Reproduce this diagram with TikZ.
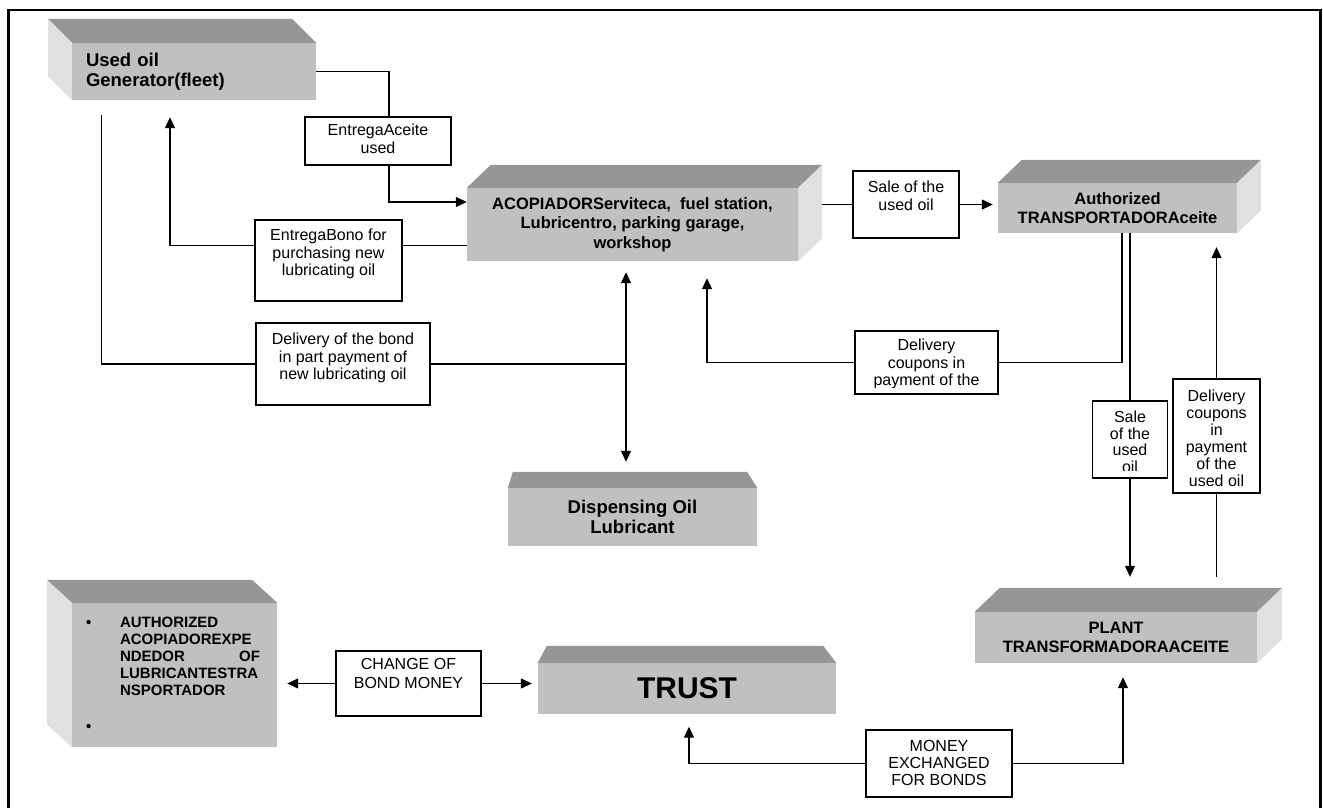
\documentclass[tikz,border=0pt]{standalone}
\usepackage{fontspec}
\setmainfont{Liberation Sans}
\usetikzlibrary{positioning}
\usetikzlibrary{arrows.meta}

\definecolor{facegray}{RGB}{192,192,192}
\definecolor{topgray}{RGB}{150,150,150}
\definecolor{sidegray}{RGB}{224,224,224}

\tikzset{
  blockface/.style={fill=facegray, inner sep=0pt, align=center, font=\bfseries\fontsize{16.5pt}{19.5pt}\selectfont},
  lblbox/.style={draw, line width=1.2pt, fill=white, inner sep=0pt},
  lbltxt/.style={anchor=north, inner sep=0pt, align=center, font=\fontsize{16pt}{17.5pt}\selectfont},
  flow/.style={line width=1.2pt},
  arrflow/.style={flow, -{Triangle[length=11pt,width=10pt]}},
  arrboth/.style={flow, {Triangle[length=11pt,width=10pt]}-{Triangle[length=11pt,width=10pt]}},
}

\begin{document}
\begin{tikzpicture}[x=1pt,y=-1pt]
	\useasboundingbox (0,0) rectangle (1323,808);
	\draw [line width=2.5pt] (8.5,808) -- (8.5,10) -- (1320.5,10) -- (1320.5,808);
	
	% blocks
	\node [blockface, minimum width=244pt, minimum height=57pt, text width=216pt, align=left, font=\bfseries\fontsize{18.5pt}{20pt}\selectfont] (gen) at (194,71.5) {Used oil\\Generator(fleet)};
	\fill [topgray] (gen.north west) -- ++(-24,-24) -- ([shift={(-24,-24)}]gen.north east) -- (gen.north east) -- cycle;
	\fill [sidegray] (gen.north west) -- ++(-24,-24) -- ([shift={(-24,-24)}]gen.south west) -- (gen.south west) -- cycle;
	
	\node [blockface, minimum width=331pt, minimum height=73pt] (acop) at (632.5,224.5) {ACOPIADORServiteca,\ \ fuel station,\\Lubricentro, parking garage,\\workshop};
	\fill [topgray] (acop.north west) -- ++(24,-23) -- ([shift={(24,-23)}]acop.north east) -- (acop.north east) -- cycle;
	\fill [sidegray] (acop.north east) -- ++(24,-23) -- ([shift={(24,-23)}]acop.south east) -- (acop.south east) -- cycle;
	
	\node [blockface, minimum width=239pt, minimum height=50pt] (auth) at (1117.5,208) {Authorized\\TRANSPORTADORAceite};
	\fill [topgray] (auth.north west) -- ++(24,-23) -- ([shift={(24,-23)}]auth.north east) -- (auth.north east) -- cycle;
	\fill [sidegray] (auth.north east) -- ++(24,-23) -- ([shift={(24,-23)}]auth.south east) -- (auth.south east) -- cycle;
	
	\node [blockface, minimum width=249pt, minimum height=58pt, font=\bfseries\fontsize{18.5pt}{20pt}\selectfont] (dispOil) at (632.5,517) {Dispensing Oil\\Lubricant};
	\fill [topgray] (dispOil.north west) -- ++(5,-16) -- ([shift={(-10,-16)}]dispOil.north east) -- (dispOil.north east) -- cycle;
	
	\node [blockface, minimum width=298pt, minimum height=51pt, font=\bfseries\fontsize{30pt}{32pt}\selectfont] (trust) at (687,688.5) {TRUST};
	\fill [topgray] (trust.north west) -- ++(9,-17) -- ([shift={(-13,-17)}]trust.north east) -- (trust.north east) -- cycle;
	
	\node [blockface, minimum width=282pt, minimum height=51pt] (plant) at (1116,637.5) {PLANT\\TRANSFORMADORAACEITE};
	\fill [topgray] (plant.north west) -- ++(25,-24) -- ([shift={(25,-24)}]plant.north east) -- (plant.north east) -- cycle;
	\fill [sidegray] (plant.north east) -- ++(25,-24) -- ([shift={(25,-24)}]plant.south east) -- (plant.south east) -- cycle;
	
	\node [blockface, minimum width=205pt, minimum height=144pt] (authExp) at (174.5,675) {};
	\fill [topgray] (authExp.north west) -- ++(-25,-23) -- ([shift={(-25,-23)}]authExp.north east) -- (authExp.north east) -- cycle;
	\fill [sidegray] (authExp.north west) -- ++(-25,-23) -- ([shift={(-25,-23)}]authExp.south west) -- (authExp.south west) -- cycle;
	\node [anchor=base, inner sep=0pt, font=\bfseries\fontsize{15pt}{17pt}\selectfont] (bulA) at ([xshift=17pt,yshift=-25pt]authExp.north west) {•};
	\node [anchor=base, inner sep=0pt, font=\bfseries\fontsize{15pt}{17pt}\selectfont] (bulB) at ([xshift=17pt,yshift=-129pt]authExp.north west) {•};
	\node [anchor=north west, inner sep=0pt, text width=142pt, align=left, font=\bfseries\fontsize{15pt}{17pt}\selectfont] (authTxt) at ([xshift=48pt,yshift=-14pt]authExp.north west) {AUTHORIZED\\ACOPIADOREXPE\\\leavevmode\makebox[140pt][s]{NDEDOR\hfil OF}\\LUBRICANTESTRA\\NSPORTADOR};
	
	% label boxes
	\node [lblbox, minimum width=146pt, minimum height=48pt] (entAce) at (378,141) {};
	\node [lbltxt] (entAceT) at ([yshift=-7.4pt]entAce.north) {EntregaAceite\\used};
	
	\node [lblbox, minimum width=147pt, minimum height=81pt] (entBono) at (328.5,260.5) {};
	\node [lbltxt] (entBonoT) at ([yshift=-9.4pt]entBono.north) {EntregaBono for\\purchasing new\\lubricating oil};
	
	\node [lblbox, minimum width=174pt, minimum height=82pt] (dlvBond) at (343,364) {};
	\node [lbltxt] (dlvBondT) at ([yshift=-10.4pt]dlvBond.north) {Delivery of the bond\\in part payment of\\new lubricating oil};
	
	\node [lblbox, minimum width=106pt, minimum height=67pt] (saleOil) at (906,204.5) {};
	\node [lbltxt] (saleOilT) at ([yshift=-10.4pt]saleOil.north) {Sale of the\\used oil};
	
	\node [lblbox, minimum width=143pt, minimum height=63pt] (dlvCoup) at (926.5,362.5) {};
	\begin{scope}
		\clip ([yshift=7pt]dlvCoup.south west) rectangle (dlvCoup.north east);
		\node [lbltxt] (dlvCoupT) at ([yshift=-8.4pt]dlvCoup.north) {Delivery\\coupons in\\payment of the};
	\end{scope}
	
	\node [lblbox, minimum width=75pt, minimum height=77pt] (saleV) at (1130,439.5) {};
	\begin{scope}
		\clip ([yshift=8pt]saleV.south west) rectangle (saleV.north east);
		\node [lbltxt, font=\fontsize{16pt}{16.5pt}\selectfont] (saleVT) at ([yshift=-10.4pt]saleV.north) {Sale\\of the\\used\\oil};
	\end{scope}
	
	\node [lblbox, minimum width=87pt, minimum height=114pt] (coupV) at (1216.5,436) {};
	\begin{scope}
		\clip ([yshift=8pt]coupV.south west) rectangle (coupV.north east);
		\node [lbltxt, font=\fontsize{16pt}{17pt}\selectfont] (coupVT) at ([yshift=-11.4pt]coupV.north) {Delivery\\coupons\\in\\payment\\of the\\used oil};
	\end{scope}
	
	\node [lblbox, minimum width=145pt, minimum height=65pt] (chgBond) at (408.5,683.5) {};
	\node [lbltxt, font=\fontsize{16pt}{19pt}\selectfont] (chgBondT) at ([yshift=-8.2pt]chgBond.north) {CHANGE OF\\BOND MONEY};
	
	\node [lblbox, minimum width=146pt, minimum height=67pt] (moneyEx) at (939,763.5) {};
	\node [lbltxt, font=\fontsize{16pt}{17pt}\selectfont] (moneyExT) at ([yshift=-11.2pt]moneyEx.north) {MONEY\\EXCHANGED\\FOR BONDS};
	
	% connectors
	\draw [flow] (gen.east) -| ([xshift=11pt]entAce.north);
	\draw [arrflow] ([xshift=11pt]entAce.south) |- ([yshift=22.5pt]acop.west);
	
	\coordinate (bonoIn) at ([yshift=-21pt]acop.west);
	\draw [flow] (bonoIn) -- (bonoIn -| entBono.east);
	\draw [arrflow, shorten >=17pt] (bonoIn -| entBono.west) -| ([xshift=-24pt]gen.south);
	
	\draw [flow] ([xshift=30pt,yshift=-15pt]gen.south west) |- (dlvBond.west);
	\coordinate (dblTop) at ([xshift=-6.5pt]acop.south);
	\coordinate (dblBot) at ([xshift=-6.5pt,yshift=16pt]dispOil.north);
	\draw [arrboth, shorten <=11pt, shorten >=10pt] (dblTop) -- (dblBot);
	\draw [flow] (dlvBond.east) -- (dlvBond.east -| dblTop);
	
	\coordinate (acopSide) at ([xshift=24pt]acop.east);
	\draw [flow] (acopSide |- saleOil.west) -- (saleOil.west);
	\draw [arrflow, shorten >=5pt] (saleOil.east) -- (saleOil.east -| auth.west);
	
	\draw [flow] ([xshift=4.5pt]auth.south) |- (dlvCoup.east);
	\draw [arrflow, shorten >=17pt] (dlvCoup.west) -| ([xshift=74.5pt]acop.south);
	
	\coordinate (plantGap) at ([yshift=35pt]plant.north);
	\draw [flow] ([xshift=12.5pt]auth.south) -- (saleV.north);
	\draw [arrflow] (saleV.south) -- (saleV.south |- plantGap);
	\draw [flow] (plantGap -| coupV.south) -- (coupV.south);
	\draw [arrflow, shorten >=14pt] (coupV.north) -- (coupV.north |- auth.south);
	
	\draw [arrflow, shorten >=14pt] (moneyEx.east) -| ([xshift=7pt]plant.south);
	\draw [arrflow, shorten >=12.5pt] (moneyEx.west) -| ([xshift=2pt]trust.south);
	
	\draw [arrflow, shorten >=10pt] (chgBond.west) -- (chgBond.west -| authExp.east);
	\draw [arrflow, shorten >=6pt] (chgBond.east) -- (chgBond.east -| trust.west);
	
\end{tikzpicture}
\end{document}
